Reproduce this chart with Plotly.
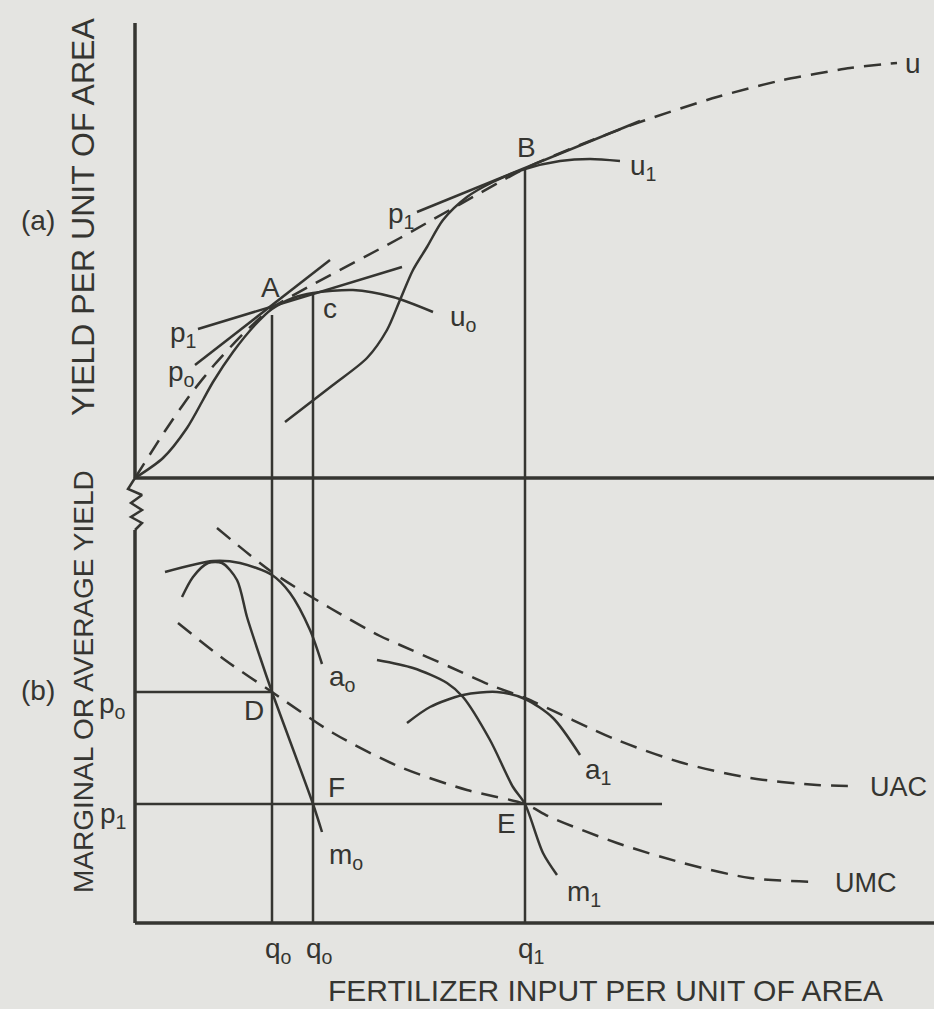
import plotly.graph_objects as go

# ---------------- data (diagram units: x = fertilizer input, y = yield) ----------------
# panel (a): total product curves (baseline W at y = 445)
u0_x = [0, 28, 52, 68, 78, 98, 120, 137, 158, 178, 218, 258, 298]
u0_y = [445, 465, 495, 523, 541, 571, 598, 614, 625, 630, 633, 626, 611]

u1_x = [150, 198, 232, 252, 265, 278, 292, 308, 332, 358, 390, 425, 455, 485]
u1_y = [501, 538, 565, 593, 623, 653, 676, 703, 726, 741, 754, 762, 764, 762]

u_x = [0, 30, 55, 80, 108, 137, 265, 391, 445, 502, 582, 648, 715, 762]
u_y = [445, 492, 528, 559, 589, 615, 685, 755, 778, 800, 826, 843, 855, 860]

p0_line_x = [60, 195]
p0_line_y = [558, 663]
p1a_line_x = [63, 267]
p1a_line_y = [594, 656]
p1b_line_x = [282, 505]
p1b_line_y = [711, 802]

# panel (b): average / marginal curves (baseline at y = 0)
a0_x = [30, 78, 105, 137, 155, 175, 187]
a0_y = [351, 362, 360, 348, 330, 293, 259]
m0_x = [47, 58, 73, 87, 102, 112, 125, 137, 178, 187]
m0_y = [326, 346, 360, 360, 343, 306, 266, 231, 119, 91]

a1_x = [272, 295, 328, 362, 390, 418, 445]
a1_y = [200, 216, 228, 231, 224, 205, 168]
m1_x = [242, 278, 312, 328, 355, 378, 390, 408, 422]
m1_y = [263, 255, 240, 226, 183, 136, 119, 70, 48]

uac_x = [82, 137, 195, 245, 265, 315, 355, 390, 482, 548, 615, 682, 717]
uac_y = [395, 351, 315, 287, 278, 256, 238, 225, 183, 160, 145, 138, 137]
umc_x = [43, 90, 137, 198, 265, 332, 390, 415, 482, 548, 615, 683]
umc_y = [300, 263, 231, 190, 156, 133, 119, 106, 80, 60, 45, 41]

# price levels and input levels
p0_level, p1_level = 231, 119
q_positions = [137, 178, 390]          # q0, q0', q1
q_tops = [608, 629, 754]               # where the verticals meet u0 / u0-peak / B
q_labels = ["q<sub>o</sub>", "q<sub>o</sub>", "q<sub>1</sub>"]

# axes / break symbol
W_level = 445
axis_top = 900
x_end = 799
break_x = [0, -7, 7, -4, 7, -4, 7, 0, 0]
break_y = [445, 434, 428, 420, 413, 406, 400, 393, 393]

INK = "#353531"
PAPER = "#e4e4e1"
FONT = "Liberation Sans, Arial, sans-serif"

fig = go.Figure()

def line(x, y, dash=None, width=2.5, shape="linear", smooth=1.0):
    ln = dict(color=INK, width=width, shape=shape)
    if shape == "spline":
        ln["smoothing"] = smooth
    if dash:
        ln["dash"] = dash
    fig.add_trace(go.Scatter(x=x, y=y, mode="lines", line=ln,
                             hoverinfo="skip", showlegend=False))

DASH = "17px,10px"

# axes
line([0, 0], [W_level, axis_top], width=3.5)
line([0, x_end], [W_level, W_level], width=3.5)
line(break_x, break_y, width=2.5)
line([0, 0], [0, break_y[-1]], width=3.5)
line([0, x_end], [0, 0], width=3.5)

# vertical input lines
for qx, qt in zip(q_positions, q_tops):
    line([qx, qx], [0, qt])

# price lines in (b)
line([0, q_positions[0]], [p0_level, p0_level])
line([0, 527], [p1_level, p1_level])

# panel (a) curves
line(u0_x, u0_y, shape="spline", smooth=0.8)
line(u1_x, u1_y, shape="spline", smooth=0.8)
line(u_x, u_y, dash=DASH, shape="spline", smooth=0.6)
line(p0_line_x, p0_line_y)
line(p1a_line_x, p1a_line_y)
line(p1b_line_x, p1b_line_y)

# panel (b) curves
line(a0_x, a0_y, shape="spline", smooth=0.8)
line(m0_x, m0_y, shape="spline", smooth=0.8)
line(a1_x, a1_y, shape="spline", smooth=0.8)
line(m1_x, m1_y, shape="spline", smooth=0.8)
line(uac_x, uac_y, dash=DASH, shape="spline", smooth=0.8)
line(umc_x, umc_y, dash=DASH, shape="spline", smooth=0.8)

def label(text, x, y, xanchor="center", yanchor="middle", size=28, family=FONT, angle=0):
    fig.add_annotation(x=x, y=y, text=text, showarrow=False, xanchor=xanchor,
                       yanchor=yanchor, textangle=angle,
                       font=dict(family=family, size=size, color=INK))

label("A", 135, 636)
label("B", 391, 776)
label("c", 195, 615)
label("u<sub>o</sub>", 313, 605, xanchor="left")
label("p<sub>1</sub>", 281, 708, xanchor="right")
label("p<sub>1</sub>", 63, 589, xanchor="right")
label("p<sub>o</sub>", 62, 550, xanchor="right")
label("u<sub>1</sub>", 493, 756, xanchor="left")
label("u", 778, 860)
label("(a)", -97, 703)
label("(b)", -97, 233)
label("p<sub>o</sub>", -7, 218, xanchor="right")
label("p<sub>1</sub>", -7, 108, xanchor="right")
label("D", 119, 213)
label("F", 201, 136)
label("E", 371, 100)
label("a<sub>o</sub>", 192, 245, xanchor="left")
label("m<sub>o</sub>", 192, 67, xanchor="left")
label("a<sub>1</sub>", 448, 152, xanchor="left")
label("m<sub>1</sub>", 430, 30, xanchor="left")
label("UAC", 733, 136, xanchor="left", size=27)
label("UMC", 698, 40, xanchor="left", size=27)
for qx, qt in zip(q_positions, q_labels):
    label(qt, qx - 9, -8, xanchor="left", yanchor="top")

label("FERTILIZER INPUT PER UNIT OF AREA", 470, -67, size=30)
label("YIELD PER UNIT OF AREA", -52, 706, size=32, angle=-90)
label("MARGINAL OR AVERAGE YIELD", -52, 241, size=28, angle=-90)

fig.update_layout(
    width=934, height=1009,
    margin=dict(l=0, r=0, t=0, b=0),
    paper_bgcolor=PAPER, plot_bgcolor=PAPER,
    xaxis=dict(range=[-135, 799], visible=False, fixedrange=True),
    yaxis=dict(range=[-86, 923], visible=False, fixedrange=True),
    showlegend=False,
)

fig.write_html("out.html", config={"displayModeBar": False},
               post_script="document.body.style.margin='0';document.body.style.background='%s';" % PAPER)
